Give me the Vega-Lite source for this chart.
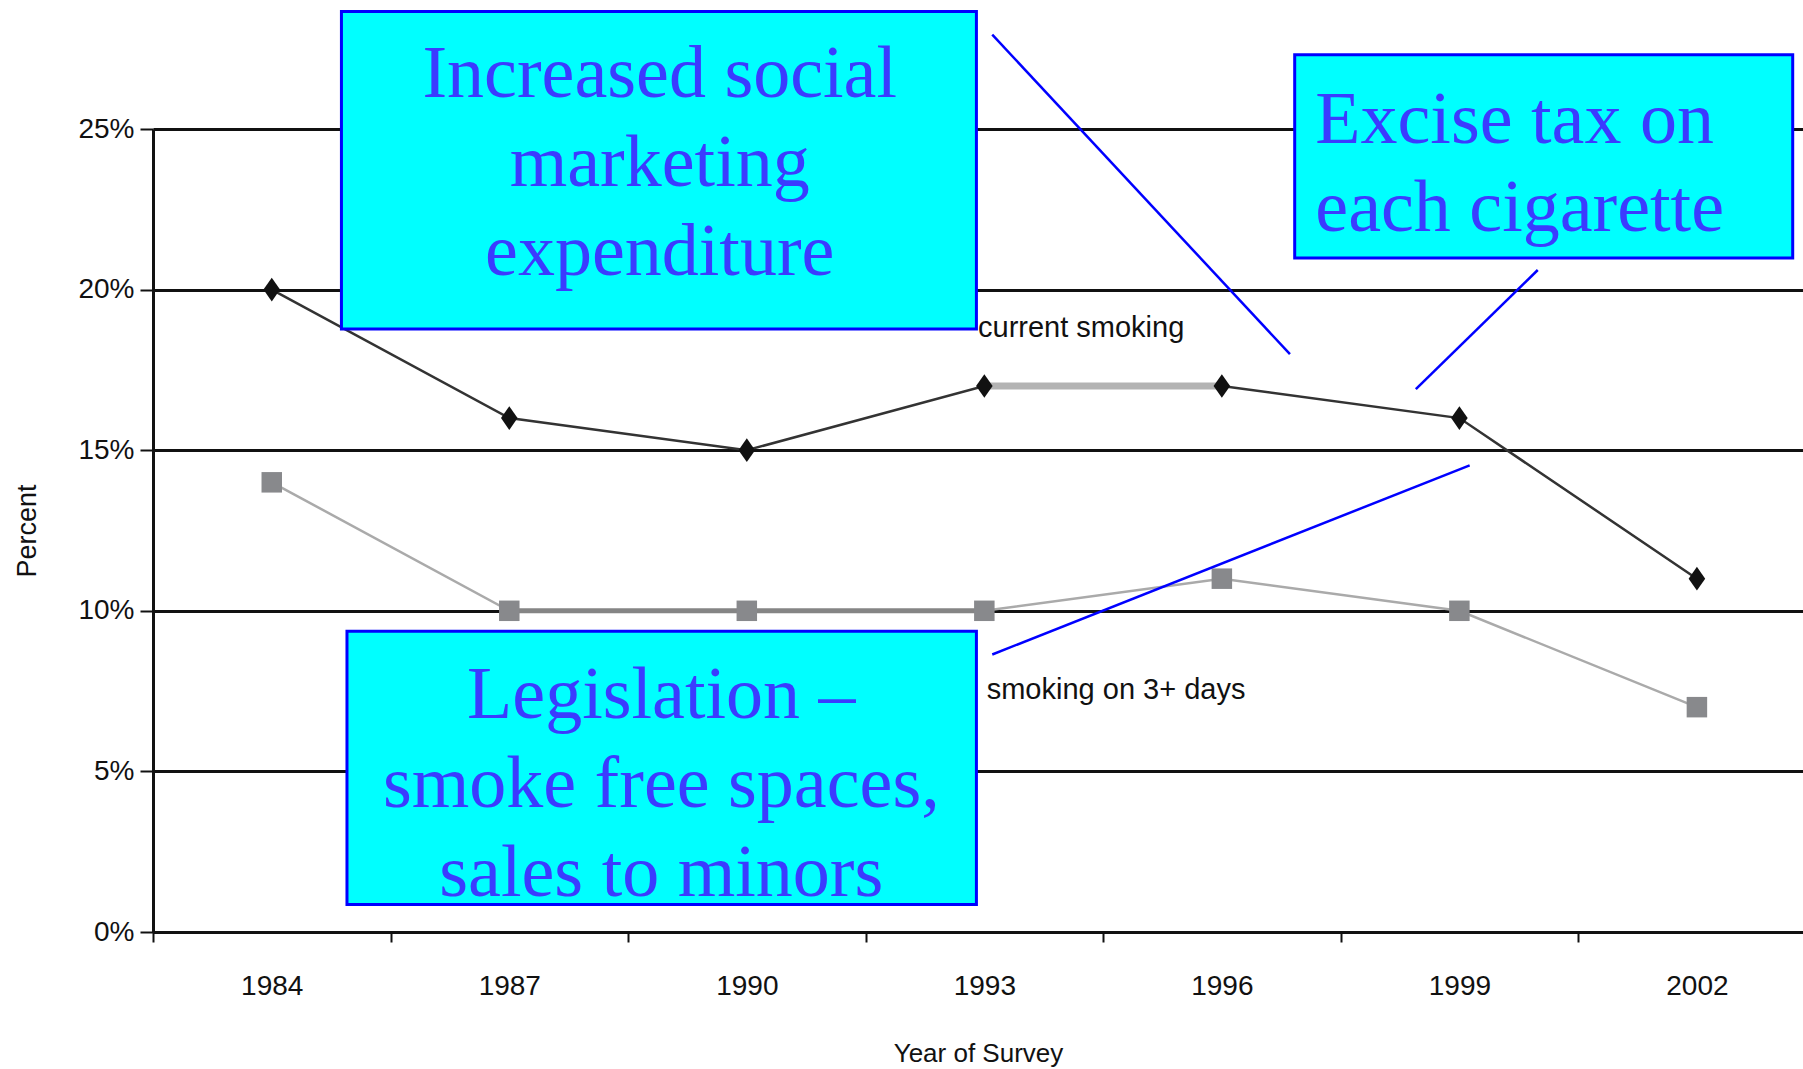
{
  "$schema": "https://vega.github.io/schema/vega-lite/v6.json",
  "width": 1650,
  "height": 803,
  "autosize": {"type": "none"},
  "padding": {"left": 153, "top": 129, "right": 0, "bottom": 137},
  "background": "white",
  "config": {"view": {"stroke": null}, "font": "Liberation Sans"},
  "datasets": {
    "survey": [
      {"year": 1984, "series": "current smoking", "value": 0.20},
      {"year": 1987, "series": "current smoking", "value": 0.16},
      {"year": 1990, "series": "current smoking", "value": 0.15},
      {"year": 1993, "series": "current smoking", "value": 0.17},
      {"year": 1996, "series": "current smoking", "value": 0.17},
      {"year": 1999, "series": "current smoking", "value": 0.16},
      {"year": 2002, "series": "current smoking", "value": 0.11},
      {"year": 1984, "series": "smoking on 3+ days", "value": 0.14},
      {"year": 1987, "series": "smoking on 3+ days", "value": 0.10},
      {"year": 1990, "series": "smoking on 3+ days", "value": 0.10},
      {"year": 1993, "series": "smoking on 3+ days", "value": 0.10},
      {"year": 1996, "series": "smoking on 3+ days", "value": 0.11},
      {"year": 1999, "series": "smoking on 3+ days", "value": 0.10},
      {"year": 2002, "series": "smoking on 3+ days", "value": 0.07}
    ],
    "highlights": [
      {"series": "current smoking", "from": 1993, "to": 1996, "value": 0.17},
      {"series": "smoking on 3+ days", "from": 1987, "to": 1993, "value": 0.10}
    ],
    "boxes": [
      {"box": "social", "x1": 1984.88, "x2": 1992.9, "y1": 0.2866, "y2": 0.1877},
      {"box": "legislation", "x1": 1984.95, "x2": 1992.9, "y1": 0.0936, "y2": 0.0086},
      {"box": "excise", "x1": 1996.92, "x2": 2003.21, "y1": 0.2731, "y2": 0.2098}
    ],
    "connectors": [
      {"x1": 1993.1, "y1": 0.2794, "x2": 1996.86, "y2": 0.1799},
      {"x1": 1999.99, "y1": 0.2061, "x2": 1998.45, "y2": 0.169},
      {"x1": 1993.1, "y1": 0.0864, "x2": 1999.13, "y2": 0.1453}
    ],
    "seriesLabels": [
      {"x": 1992.92, "y": 0.1879, "label": "current smoking"},
      {"x": 1993.03, "y": 0.0752, "label": "smoking on 3+ days"}
    ],
    "notes": [
      {"box": "social", "x": 1988.9, "y": 0.2599, "text": "Increased social\nmarketing\nexpenditure"},
      {"box": "legislation", "x": 1988.92, "y": 0.0666, "text": "Legislation –\nsmoke free spaces,\nsales to minors"},
      {"box": "excise", "x": 1997.18, "y": 0.2456, "text": "Excise tax on\neach cigarette"}
    ]
  },
  "layer": [
    {
      "data": {"name": "survey"},
      "mark": {"type": "line", "strokeWidth": 2.5},
      "encoding": {
        "x": {
          "field": "year", "type": "quantitative", "title": "Year of Survey",
          "scale": {"domain": [1982.5, 2003.34], "nice": false, "zero": false},
          "axis": {
            "values": [1984, 1987, 1990, 1993, 1996, 1999, 2002],
            "format": "d",
            "tickOffset": -118.76,
            "labelOffset": 118.76,
            "grid": false,
            "domainColor": "#111111", "domainWidth": 3,
            "tickColor": "#111111", "tickWidth": 2, "tickSize": 10,
            "labelFontSize": 28, "labelPadding": 30, "labelColor": "#111111",
            "labelFlush": false, "labelOverlap": false,
            "titleFontSize": 26, "titleFontWeight": "normal", "titleColor": "#111111", "titlePadding": 40
          }
        },
        "y": {
          "field": "value", "type": "quantitative", "title": "Percent",
          "scale": {"domain": [0, 0.25], "nice": false, "zero": true},
          "axis": {
            "values": [0, 0.05, 0.10, 0.15, 0.20, 0.25],
            "format": ".0%",
            "grid": true, "gridColor": "#111111", "gridWidth": 3, "gridOpacity": 1,
            "domainColor": "#111111", "domainWidth": 3,
            "tickColor": "#111111", "tickWidth": 2, "tickSize": 13,
            "labelFontSize": 28, "labelPadding": 6, "labelColor": "#111111",
            "labelFlush": false, "labelOverlap": false,
            "titleFontSize": 27, "titleFontWeight": "normal", "titleColor": "#111111", "titlePadding": 36
          }
        },
        "stroke": {
          "field": "series", "type": "nominal",
          "scale": {"domain": ["current smoking", "smoking on 3+ days"], "range": ["#333333", "#aaaaaa"]},
          "legend": null
        }
      }
    },
    {
      "data": {"name": "highlights"},
      "mark": {"type": "rule"},
      "encoding": {
        "x": {"field": "from", "type": "quantitative", "title": "Year of Survey"},
        "x2": {"field": "to"},
        "y": {"field": "value", "type": "quantitative", "title": "Percent"},
        "color": {
          "field": "series", "type": "nominal",
          "scale": {"domain": ["current smoking", "smoking on 3+ days"], "range": ["#b3b3b3", "#858585"]},
          "legend": null
        },
        "strokeWidth": {
          "field": "series", "type": "nominal",
          "scale": {"domain": ["current smoking", "smoking on 3+ days"], "range": [7, 5]},
          "legend": null
        }
      }
    },
    {
      "data": {"name": "survey"},
      "mark": {"type": "point", "filled": true, "opacity": 1},
      "encoding": {
        "x": {"field": "year", "type": "quantitative", "title": "Year of Survey"},
        "y": {"field": "value", "type": "quantitative", "title": "Percent"},
        "shape": {
          "field": "series", "type": "nominal",
          "scale": {"domain": ["current smoking", "smoking on 3+ days"], "range": ["M0,-1L0.7,0L0,1L-0.7,0Z", "square"]},
          "legend": null
        },
        "size": {
          "field": "series", "type": "nominal",
          "scale": {"domain": ["current smoking", "smoking on 3+ days"], "range": [560, 420]},
          "legend": null
        },
        "fill": {
          "field": "series", "type": "nominal",
          "scale": {"domain": ["current smoking", "smoking on 3+ days"], "range": ["#111111", "#88898c"]},
          "legend": null
        }
      }
    },
    {
      "data": {"name": "boxes"},
      "mark": {"type": "rect", "fill": "#00ffff", "stroke": "#0000ff", "strokeWidth": 3},
      "encoding": {
        "x": {"field": "x1", "type": "quantitative", "title": "Year of Survey"},
        "x2": {"field": "x2"},
        "y": {"field": "y1", "type": "quantitative", "title": "Percent"},
        "y2": {"field": "y2"}
      }
    },
    {
      "data": {"name": "connectors"},
      "mark": {"type": "rule", "color": "#0000ff", "strokeWidth": 2.5},
      "encoding": {
        "x": {"field": "x1", "type": "quantitative", "title": "Year of Survey"},
        "x2": {"field": "x2"},
        "y": {"field": "y1", "type": "quantitative", "title": "Percent"},
        "y2": {"field": "y2"}
      }
    },
    {
      "data": {"name": "seriesLabels"},
      "mark": {"type": "text", "align": "left", "baseline": "middle", "fontSize": 29, "color": "#111111", "font": "Liberation Sans"},
      "encoding": {
        "x": {"field": "x", "type": "quantitative", "title": "Year of Survey"},
        "y": {"field": "y", "type": "quantitative", "title": "Percent"},
        "text": {"field": "label"}
      }
    },
    {
      "data": {"name": "notes"},
      "transform": [{"filter": "datum.box !== 'excise'"}],
      "mark": {"type": "text", "align": "center", "baseline": "alphabetic", "fontSize": 74, "lineHeight": 89, "lineBreak": "\n", "color": "#3b3bff", "font": "Liberation Serif"},
      "encoding": {
        "x": {"field": "x", "type": "quantitative", "title": "Year of Survey"},
        "y": {"field": "y", "type": "quantitative", "title": "Percent"},
        "text": {"field": "text"}
      }
    },
    {
      "data": {"name": "notes"},
      "transform": [{"filter": "datum.box === 'excise'"}],
      "mark": {"type": "text", "align": "left", "baseline": "alphabetic", "fontSize": 74, "lineHeight": 88, "lineBreak": "\n", "color": "#3b3bff", "font": "Liberation Serif"},
      "encoding": {
        "x": {"field": "x", "type": "quantitative", "title": "Year of Survey"},
        "y": {"field": "y", "type": "quantitative", "title": "Percent"},
        "text": {"field": "text"}
      }
    }
  ]
}
